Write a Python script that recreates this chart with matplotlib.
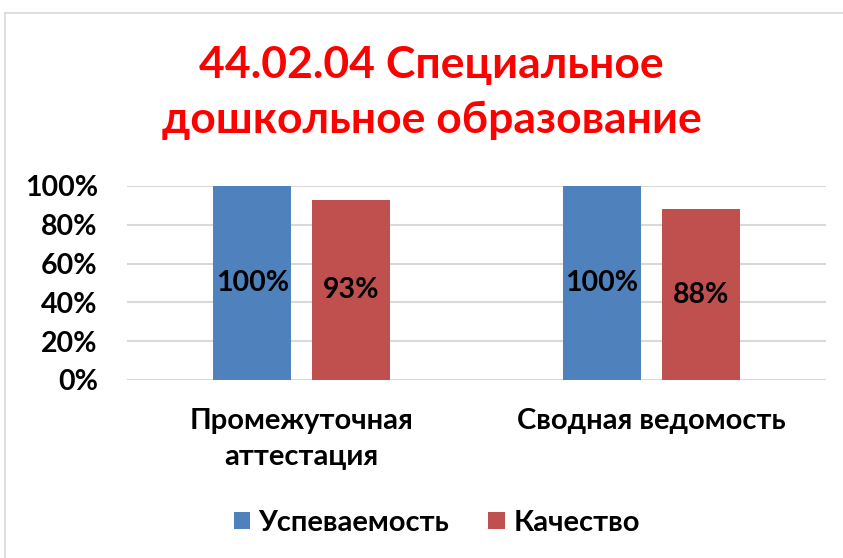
import matplotlib.pyplot as plt
import numpy as np
from matplotlib.lines import Line2D

# data
categories = ["Промежуточная\nаттестация", "Сводная ведомость"]
series_names = ["Успеваемость", "Качество"]
uspevaemost = [1.00, 1.00]
kachestvo = [0.93, 0.88]
yticks = [0, 0.2, 0.4, 0.6, 0.8, 1.0]

colors = ["#4F81BD", "#C0504D"]

plt.rcParams['font.family'] = ['Lato', 'DejaVu Sans']
plt.rcParams['font.weight'] = 'bold'

fig = plt.figure(figsize=(8.43, 5.58), dpi=100)
ax = fig.add_axes([127/843, 1 - 380/558, 699/843, 194/558])

x = np.arange(len(categories))
w = 0.223
off = w / 2 + 0.03
b1 = ax.bar(x - off, uspevaemost, w, color=colors[0], label=series_names[0], zorder=3)
b2 = ax.bar(x + off, kachestvo, w, color=colors[1], label=series_names[1], zorder=3)

for bars in (b1, b2):
    for r in bars:
        v = r.get_height()
        ax.text(r.get_x() + r.get_width() / 2, v / 2, f"{v*100:.0f}%",
                ha="center", va="center", fontsize=20.5, fontweight="bold", zorder=4)

ax.set_xlim(-0.5, 1.5)
ax.set_ylim(0, 1.0)
ax.set_yticks(yticks)
ax.set_yticklabels([f"{t*100:.0f}%" for t in yticks], fontsize=20.5, fontweight="bold")
ax.set_xticks(x)
ax.set_xticklabels(categories, fontsize=21, fontweight="bold", linespacing=1.5)
ax.tick_params(axis="both", length=0)
ax.tick_params(axis="y", pad=21)
ax.tick_params(axis="x", pad=20)
ax.grid(axis="y", color="#D9D9D9", linewidth=1.5, zorder=0)
ax.set_axisbelow(True)
for s in ax.spines.values():
    s.set_visible(False)

fig.text(0.512, 1 - 65/558, "44.02.04 Специальное", ha="center", va="center",
         color="#FF0000", fontsize=32, fontweight="bold")
fig.text(0.512, 1 - 120/558, "дошкольное образование", ha="center", va="center",
         color="#FF0000", fontsize=32, fontweight="bold")

fig.legend(handles=[b1, b2], labels=series_names, loc="center",
           bbox_to_anchor=(0.518, 1 - 523/558), ncol=2, frameon=False,
           prop={"size": 21, "weight": "bold"}, handlelength=0.55, handleheight=0.55,
           handletextpad=0.3, columnspacing=1.35)

# outer chart border (left and top)
fig.add_artist(Line2D([5/843, 5/843], [0, 1 - 13/558], transform=fig.transFigure, color="#D9D9D9", lw=1.2))
fig.add_artist(Line2D([5/843, 1], [1 - 13/558, 1 - 13/558], transform=fig.transFigure, color="#D9D9D9", lw=1.2))

fig.savefig("out.png", dpi=100)
